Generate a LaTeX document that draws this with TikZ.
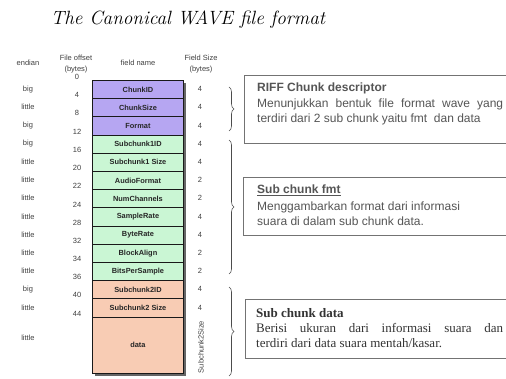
\documentclass[tikz,border=0pt]{standalone}
\usepackage{fontspec}
\newfontfamily\arialf{Liberation Sans}
\newfontfamily\timesf{Liberation Serif}
\usetikzlibrary{decorations.pathreplacing}
\definecolor{purp}{RGB}{182,166,242}
\definecolor{grn}{RGB}{202,246,212}
\definecolor{pch}{RGB}{248,204,180}
\definecolor{txtg}{RGB}{85,85,85}
\begin{document}
\begin{tikzpicture}[x=1pt,y=-1pt,
  fld/.style={draw=black!90, line width=0.9pt, minimum width=91pt, minimum height=18.2pt, inner sep=0pt, anchor=north west, font=\fontsize{7.4}{8}\selectfont\arialf\bfseries, text=black!85},
  lab/.style={font=\fontsize{7.5}{9}\selectfont\arialf, text=black!75, inner sep=0pt},
  hdr/.style={font=\fontsize{7.5}{11}\selectfont\arialf, text=black!75, align=center, inner sep=0pt},
  descbox/.style={draw=black!55, line width=0.8pt, anchor=north west, minimum width=270pt, inner sep=0pt},
  brc/.style={decorate, decoration={brace, amplitude=5pt}, draw=black!70, line width=0.6pt},
  btxt/.style={anchor=base west, inner sep=0pt, text=txtg, font=\fontsize{12}{14}\selectfont\arialf},
  stxt/.style={anchor=base west, inner sep=0pt, text=black!80, font=\fontsize{13}{15}\selectfont\timesf}
]
\useasboundingbox (0,0) rectangle (506,379);
\fill[white] (0,0) rectangle (506,379);

% title
\node[inner sep=0pt] (title) at (188,20) {\fontsize{19.2}{23}\selectfont\itshape The Canonical WAVE file format};

% headers
\node[hdr] (h1) at (28,63) {endian};
\node[hdr] (h2) at (76,64) {File offset\\(bytes)};
\node[hdr] (h3) at (138,63) {field name};
\node[hdr] (h4) at (201,64) {Field Size\\(bytes)};

% shadow
\fill[black!60] (95,83) rectangle (186,376);

\foreach \i/\nm/\col/\en/\sz/\off in {
 1/ChunkID/purp/big/4/0,
 2/ChunkSize/purp/little/4/4,
 3/Format/purp/big/4/8,
 4/Subchunk1ID/grn/big/4/12,
 5/Subchunk1 Size/grn/little/4/16,
 6/AudioFormat/grn/little/2/20,
 7/NumChannels/grn/little/2/22,
 8/SampleRate/grn/little/4/24,
 9/ByteRate/grn/little/4/28,
 10/BlockAlign/grn/little/2/32,
 11/BitsPerSample/grn/little/2/34,
 12/Subchunk2ID/pch/big/4/36,
 13/Subchunk2 Size/pch/little/4/40}
{
 \pgfmathsetmacro\yy{80+(\i-1)*18.2}
 \node[fld, fill=\col] (f\i) at (92,\yy) {\nm};
 \node[lab] (e\i) at (28,\yy+9.1) {\en};
 \node[lab] (s\i) at (200,\yy+9.1) {\sz};
 \node[lab] (o\i) at (77,\yy-3) {\off};
}
\node[fld, fill=pch, minimum height=56.4pt] (f14) at (92,316.6) {data};
\node[lab] (e14) at (28,338) {little};
\node[lab] (o14) at (77,313.6) {44};
\node[lab, rotate=90] (s14) at (201,347) {Subchunk2Size};

% braces
\draw[brc] (229,87) -- (229,131);
\draw[brc] (229,140) -- (229,274);
\draw[brc] (229,287) -- (229,376);

% description boxes
\node[descbox, minimum height=68pt] (d1) at (244,75) {};
\node[descbox, minimum height=58pt] (d2) at (243,177) {};
\node[descbox, minimum height=59pt] (d3) at (245,299) {};

\node[btxt, font=\fontsize{12}{14}\selectfont\arialf\bfseries] (t1a) at (257,92) {RIFF Chunk descriptor};
\node[btxt] (t1b) at (257,108) {\makebox[246pt][s]{Menunjukkan bentuk file format wave yang}};
\node[btxt] (t1c) at (257,123) {terdiri dari 2 sub chunk yaitu fmt\ \ dan data};

\node[btxt, font=\fontsize{12}{14}\selectfont\arialf\bfseries] (t2a) at (257,194) {\underline{Sub chunk fmt}};
\node[btxt] (t2b) at (257,211) {Menggambarkan format dari informasi};
\node[btxt] (t2c) at (257,226) {suara di dalam sub chunk data.};

\node[stxt, font=\fontsize{13}{15}\selectfont\timesf\bfseries] (t3a) at (256,318) {Sub chunk data};
\node[stxt] (t3b) at (256,333) {\makebox[247pt][s]{Berisi ukuran dari informasi suara dan}};
\node[stxt] (t3c) at (256,348) {terdiri dari data suara mentah/kasar.};
\end{tikzpicture}
\end{document}
